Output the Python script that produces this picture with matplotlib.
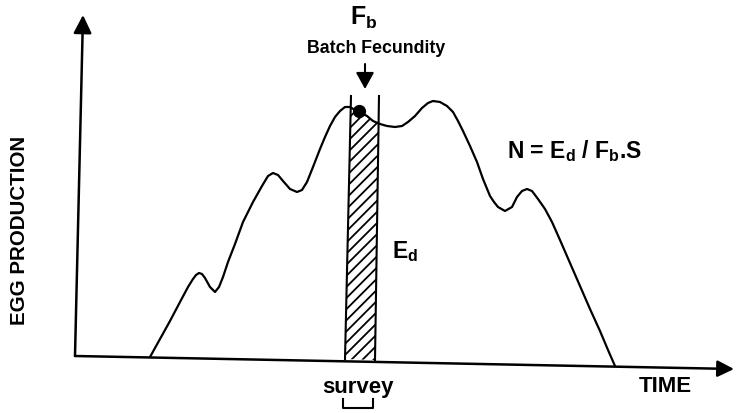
import numpy as np
import matplotlib
matplotlib.use("Agg")
import matplotlib.pyplot as plt

plt.rcParams['font.family'] = ['Liberation Sans', 'DejaVu Sans']
plt.rcParams['font.weight'] = 'bold'
plt.rcParams['mathtext.fontset'] = 'custom'
plt.rcParams['mathtext.rm'] = 'Liberation Sans:bold'
plt.rcParams['mathtext.it'] = 'Liberation Sans:bold'
plt.rcParams['mathtext.bf'] = 'Liberation Sans:bold'
plt.rcParams['hatch.linewidth'] = 1.3

# egg production curve (time, production)
time = [150, 160, 170, 180, 188, 193, 196, 199, 202, 205, 210, 215, 219, 223,
        228, 235, 243, 253, 262, 268, 273, 278, 283, 290, 297, 302, 307, 313,
        320, 325, 330, 335, 340, 345, 350, 355, 360, 367, 373, 380, 387, 395,
        402, 408, 415, 422, 428, 433, 440, 447, 453, 458, 463, 470, 477, 483,
        490, 494, 498, 505, 512, 517, 522, 527, 532, 538, 545, 552, 560, 570,
        580, 590, 600, 608, 615]
egg = [56, 74, 92, 111, 126, 134, 138, 140, 139, 135, 126, 121, 126, 136,
       151, 169, 191, 211, 227, 237, 240, 238, 232, 224, 221, 223, 231, 246,
       264, 276, 287, 296, 302, 306, 306, 303, 301, 297, 292, 289, 287, 286,
       287, 291, 297, 305, 310, 312, 311, 307, 301, 292, 282, 267, 251, 234,
       217, 211, 206, 202, 206, 216, 222, 224, 222, 214, 204, 191, 173, 150,
       127, 104, 82, 63, 47]

# survey window edges (top, bottom)
survey_left = [351, 345]
survey_right = [379, 375]
survey_top = 317
survey_bottom = [54, 53]
# where the curve meets the survey edges
cut_left = 306
cut_right = 289

# batch fecundity sample point
fb_point = (359, 302)

fig = plt.figure(figsize=(7.36, 4.14), dpi=100)
ax = fig.add_axes([0, 0, 1, 1])
ax.set_xlim(0, 736)
ax.set_ylim(0, 414)
ax.axis('off')

# axes with arrow heads
ax.annotate('', xy=(734, 44), xytext=(75, 57),
            arrowprops=dict(arrowstyle='-|>,head_length=1.0,head_width=0.5',
                            lw=1.8, color='black', shrinkA=0, shrinkB=0))
ax.annotate('', xy=(83, 398), xytext=(75, 57),
            arrowprops=dict(arrowstyle='-|>,head_length=1.1,head_width=0.55',
                            lw=1.8, color='black', shrinkA=0, shrinkB=0))

# hatched survey block
t = np.array(time)
e = np.array(egg)
inside = (t > survey_left[0]) & (t < survey_right[0])
px = [survey_left[1], survey_left[0] - 0.3] + list(t[inside]) + [survey_right[0] - 0.3, survey_right[1]]
py = [survey_bottom[0], cut_left] + list(e[inside]) + [cut_right, survey_bottom[1]]
ax.fill(px, py, facecolor='white', edgecolor='black', hatch='///', lw=0)

ax.plot(time, egg, color='black', lw=1.6, solid_joinstyle='round', solid_capstyle='round')

ax.plot(survey_left, [survey_top, survey_bottom[0]], color='black', lw=1.5)
ax.plot(survey_right, [survey_top, survey_bottom[1]], color='black', lw=1.5)

ax.plot(*fb_point, 'o', color='black', ms=8.5)

# arrow to the sample point
ax.annotate('', xy=(365, 324), xytext=(365, 349),
            arrowprops=dict(arrowstyle='-|>,head_length=1.0,head_width=0.55',
                            lw=1.5, color='black', shrinkA=0, shrinkB=0))

ax.text(350, 389, r'F$_\mathrm{b}$', fontsize=18, ha='left', va='baseline')
ax.text(376, 361, 'Batch Fecundity', fontsize=12.8, ha='center', va='baseline')
ax.text(507, 256, r'N = E$_\mathrm{d}$ / F$_\mathrm{b}$.S', fontsize=16.5, ha='left', va='baseline')
ax.text(392, 156, r'E$_\mathrm{d}$', fontsize=16.5, ha='left', va='baseline')
ax.text(20, 184, 'EGG PRODUCTION', fontsize=14.8, ha='center', va='center', rotation=90)
ax.text(665, 27, 'TIME', fontsize=16, ha='center', va='center')
ax.text(358, 21, 'survey', fontsize=16, ha='center', va='baseline')

# bracket under "survey"
ax.plot([343, 343, 373, 373], [14, 5, 5, 14], color='black', lw=1.5)

fig.savefig('out.png', dpi=100)
